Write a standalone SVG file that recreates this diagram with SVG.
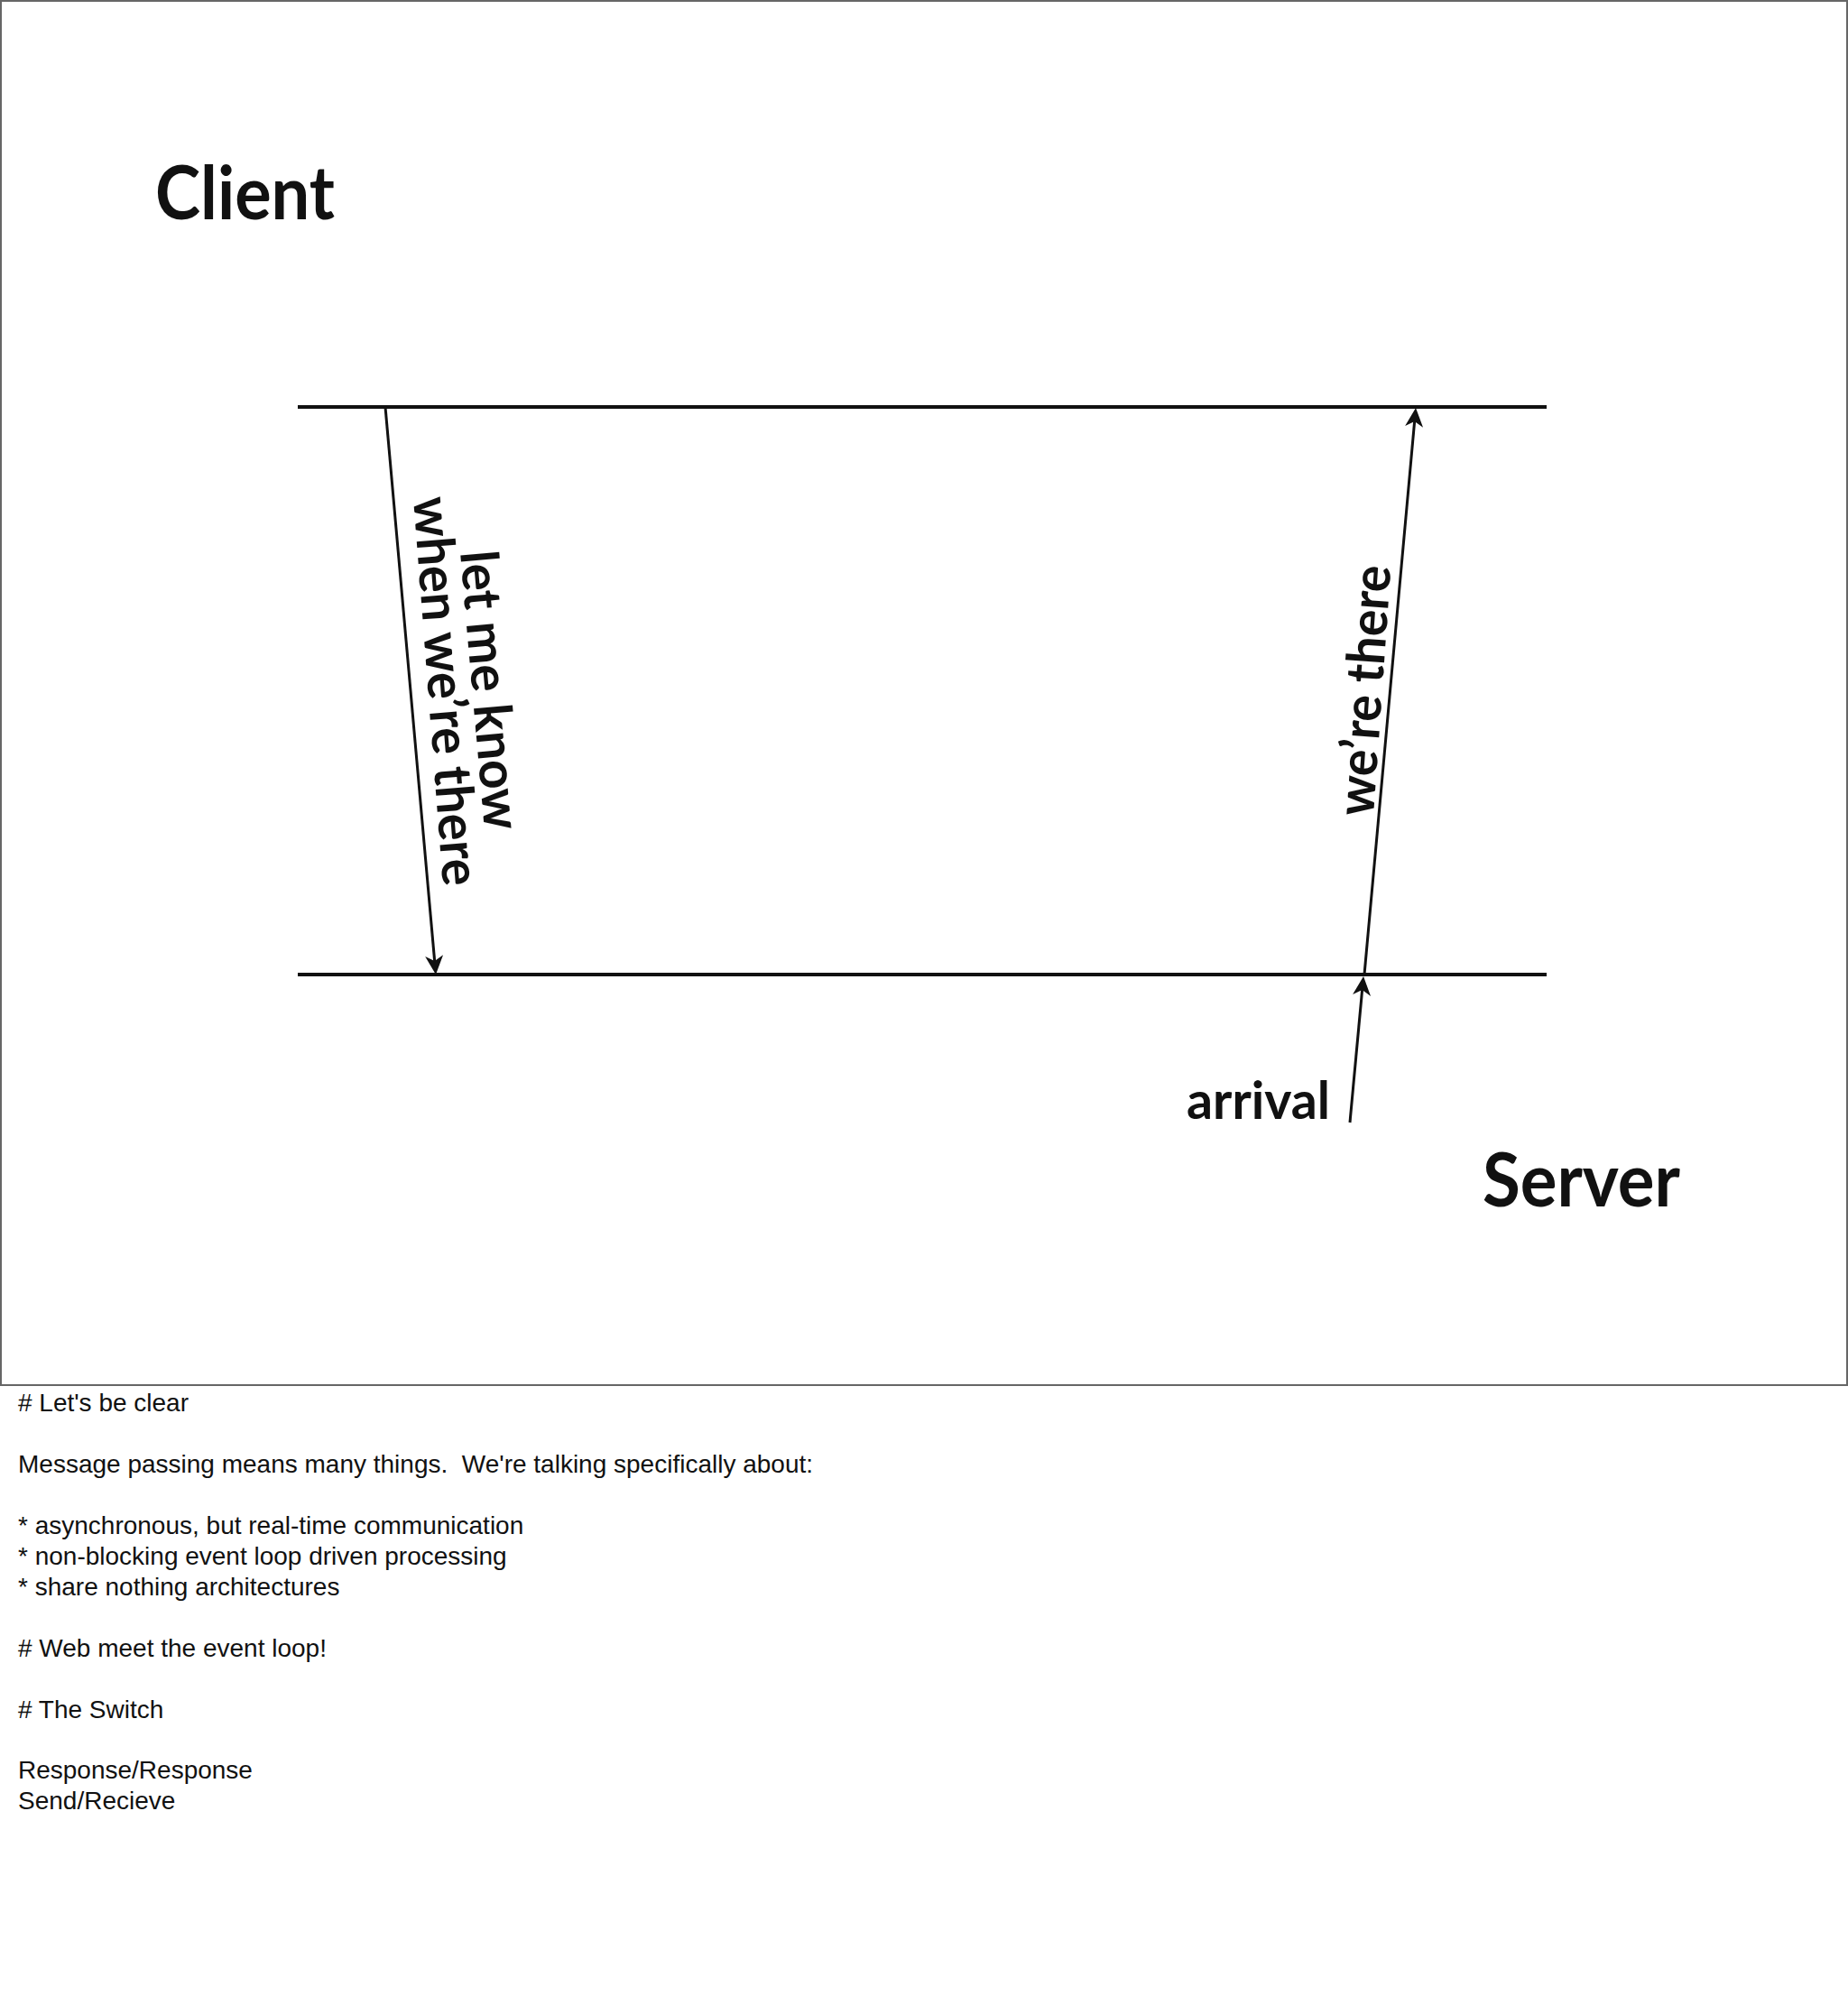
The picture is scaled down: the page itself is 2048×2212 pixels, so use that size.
<svg xmlns="http://www.w3.org/2000/svg" width="2048" height="2212" viewBox="0 0 2048 2212">
<style>
.hl{stroke:#111;stroke-width:4;fill:none}
.arr{stroke:#111;stroke-width:3;fill:none;marker-end:url(#ah)}
.big{font-family:Lato,"Liberation Sans",sans-serif;font-weight:700;fill:#111}
.lbl{font-family:Lato,"Liberation Sans",sans-serif;font-weight:700;font-size:58px;fill:#111}
.note{font-family:"Liberation Sans",Arial,sans-serif;font-size:28px;fill:#111}
</style>
<defs>
<marker id="ah" markerUnits="userSpaceOnUse" markerWidth="40" markerHeight="40" viewBox="-20 -20 40 40" refX="0" refY="0" orient="auto">
<path d="M10,0 L-11,-10 L-5,0 L-11,10 Z" fill="#111"/>
</marker>
</defs>
<rect x="0" y="0" width="2048" height="2212" fill="#fff"/>
<rect x="1" y="1" width="2046" height="1534" fill="#fff" stroke="#666" stroke-width="2"/>

<g id="client"><text class="big" x="172" y="243" font-size="82" textLength="199" lengthAdjust="spacingAndGlyphs">Client</text></g>
<g id="server"><text class="big" x="1643" y="1337" font-size="82" textLength="219" lengthAdjust="spacingAndGlyphs">Server</text></g>

<g id="client-line"><line class="hl" x1="330" y1="451" x2="1714" y2="451"/></g>
<g id="server-line"><line class="hl" x1="330" y1="1080" x2="1714" y2="1080"/></g>

<g id="connectors">
<line class="arr" x1="427" y1="451" x2="482.1" y2="1070"/>
<line class="arr" x1="1512" y1="1080" x2="1568.1" y2="462"/>
<line class="arr" x1="1496" y1="1244" x2="1510.1" y2="1092"/>
</g>

<g id="label-request">
<text class="lbl" transform="translate(510 612) rotate(85)" textLength="310" lengthAdjust="spacingAndGlyphs">let me know</text>
<text class="lbl" transform="translate(458 552) rotate(85.6)" textLength="432" lengthAdjust="spacingAndGlyphs">when we’re there</text>
</g>
<g id="label-response">
<text class="lbl" transform="translate(1522 905) rotate(-86)" textLength="278" lengthAdjust="spacingAndGlyphs">we’re there</text>
</g>
<g id="label-arrival">
<text class="lbl" x="1315" y="1240" font-size="56" textLength="159" lengthAdjust="spacingAndGlyphs">arrival</text>
</g>

<g id="notes">
<text class="note" x="20" y="1564"># Let's be clear</text>
<text class="note" x="20" y="1632" xml:space="preserve">Message passing means many things.  We're talking specifically about:</text>
<text class="note" x="20" y="1700">* asynchronous, but real-time communication</text>
<text class="note" x="20" y="1734">* non-blocking event loop driven processing</text>
<text class="note" x="20" y="1768">* share nothing architectures</text>
<text class="note" x="20" y="1836"># Web meet the event loop!</text>
<text class="note" x="20" y="1904"># The Switch</text>
<text class="note" x="20" y="1971">Response/Response</text>
<text class="note" x="20" y="2005">Send/Recieve</text>
</g>
</svg>
